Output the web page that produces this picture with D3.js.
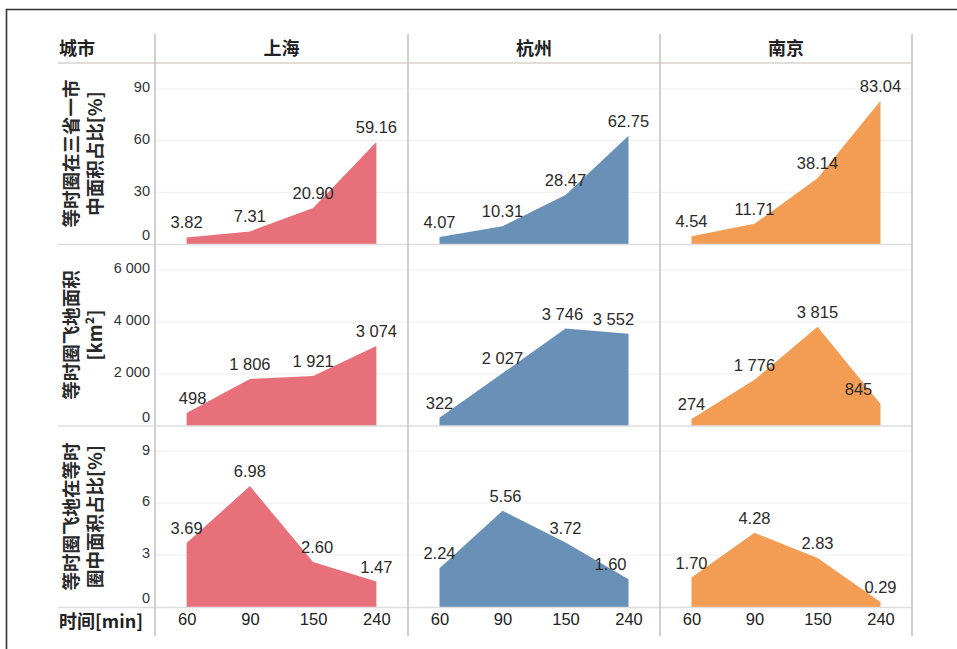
<!DOCTYPE html>
<html><head><meta charset="utf-8">
<script src="https://cdn.jsdelivr.net/npm/d3@7/dist/d3.min.js"></script>
<style>
html,body{margin:0;padding:0;background:#fff;}
svg{display:block;}
</style></head>
<body><svg id="chart" width="957" height="649"></svg>
<script>
// ---------- data ----------
const cities = ['上海', '杭州', '南京'];
const times = ['60', '90', '150', '240'];
const cornerLabel = '城市';
const xAxisTitle = '时间[min]';

// row 1: 等时圈在三省一市中面积占比 [%]
const shareSH = [3.82, 7.31, 20.90, 59.16];
const shareHZ = [4.07, 10.31, 28.47, 62.75];
const shareNJ = [4.54, 11.71, 38.14, 83.04];
// row 2: 等时圈飞地面积 [km²]
const enclaveAreaSH = [498, 1806, 1921, 3074];
const enclaveAreaHZ = [322, 2027, 3746, 3552];
const enclaveAreaNJ = [274, 1776, 3815, 845];
// row 3: 等时圈飞地在等时圈中面积占比 [%]
const enclaveShareSH = [3.69, 6.98, 2.60, 1.47];
const enclaveShareHZ = [2.24, 5.56, 3.72, 1.60];
const enclaveShareNJ = [1.70, 4.28, 2.83, 0.29];

const rowTitles = [
  ['等时圈在三省一市', '中面积占比[%]'],
  ['等时圈飞地面积', '[km²]'],
  ['等时圈飞地在等时', '圈中面积占比[%]']
];
const row1Ticks = [0, 30, 60, 90];
const row2Ticks = [0, 2000, 4000, 6000];
const row3Ticks = [0, 3, 6, 9];
const cityColors = ['#e8707a', '#6990b7', '#f39d54'];

// ---------- layout ----------
const colEdges = [155, 408, 660, 912];
const rowEdges = [63, 244, 426, 607];
const rowDomains = [105, 7000, 10.45];
const rows = [
  {series: [shareSH, shareHZ, shareNJ], ticks: row1Ticks, fmt: 'dec'},
  {series: [enclaveAreaSH, enclaveAreaHZ, enclaveAreaNJ], ticks: row2Ticks, fmt: 'int'},
  {series: [enclaveShareSH, enclaveShareHZ, enclaveShareNJ], ticks: row3Ticks, fmt: 'dec'}
];
// label nudges (row, col, idx) -> dx
const labelNudge = {'1-0-0': 6, '1-1-2': -3, '1-1-3': -15, '1-2-3': -22, '2-0-2': 4, '2-1-1': 3, '2-1-3': -18};

const loc = d3.formatLocale({decimal: '.', thousands: ' ', grouping: [3], currency: ['', '']});
const fmtInt = loc.format(',d');
const fmtDec = d3.format('.2f');

const svg = d3.select('#chart');
const latin = '"Liberation Sans", Arial, sans-serif';
const cjk = '"Noto Sans CJK SC", "Noto Sans", sans-serif';

// frame
svg.append('line').attr('x1', 6).attr('x2', 957).attr('y1', 9.5).attr('y2', 9.5)
  .attr('stroke', '#333').attr('stroke-width', 1.6);
svg.append('line').attr('x1', 6.5).attr('x2', 6.5).attr('y1', 9).attr('y2', 649)
  .attr('stroke', '#333').attr('stroke-width', 1.6);

// panels
rows.forEach((row, r) => {
  const y = d3.scaleLinear().domain([0, rowDomains[r]]).range([rowEdges[r + 1], rowEdges[r]]);
  // y tick labels
  const ay = svg.append('g').attr('transform', 'translate(150,0)')
    .call(d3.axisLeft(y).tickValues(row.ticks).tickSize(0).tickPadding(0)
      .tickFormat(v => row.fmt === 'int' ? fmtInt(v) : d3.format('d')(v)));
  ay.select('.domain').remove();
  ay.selectAll('text').attr('font-family', latin).attr('font-size', 14.5).attr('fill', '#333')
    .attr('dy', d => d === 0 ? '-0.3em' : '0.2em');

  // row titles
  const cy = (rowEdges[r] + rowEdges[r + 1]) / 2;
  rowTitles[r].forEach((t, i) => {
    svg.append('text').attr('transform', `translate(${70 + i * 24},${cy}) rotate(-90)`)
      .attr('text-anchor', 'middle').attr('dominant-baseline', 'central')
      .attr('font-family', cjk).attr('font-weight', 'bold').attr('font-size', 18.5)
      .attr('fill', '#2a2a2a').text(t);
  });

  cities.forEach((c, ci) => {
    const x = d3.scalePoint().domain(times).range([colEdges[ci], colEdges[ci + 1]]).padding(0.5);
    // gridlines
    svg.append('g').selectAll('line').data(row.ticks.filter(v => v > 0)).join('line')
      .attr('x1', colEdges[ci] + 1).attr('x2', colEdges[ci + 1] - 1)
      .attr('y1', d => y(d)).attr('y2', d => y(d))
      .attr('stroke', '#eeeeee').attr('stroke-width', 1);
    const vals = row.series[ci];
    const area = d3.area().x((d, i) => x(times[i])).y0(y(0)).y1(d => y(d));
    svg.append('path').datum(vals).attr('d', area).attr('fill', cityColors[ci]);
    svg.append('g').selectAll('text').data(vals).join('text')
      .attr('x', (d, i) => x(times[i]) + (labelNudge[`${r}-${ci}-${i}`] || 0))
      .attr('y', d => y(d) - 9)
      .attr('text-anchor', 'middle')
      .attr('font-family', latin).attr('font-size', 16.5).attr('fill', '#2a2a2a')
      .text(d => row.fmt === 'int' ? fmtInt(d) : fmtDec(d));
  });
});

// horizontal separators
[63, 244.5, 426, 607.5].forEach((yy, i) => {
  svg.append('line').attr('x1', 58).attr('x2', 912).attr('y1', yy).attr('y2', yy)
    .attr('stroke', i === 0 ? '#d6d2cf' : '#dedede').attr('stroke-width', 1.5);
});

// vertical dividers
svg.append('g').selectAll('line').data(colEdges).join('line')
  .attr('x1', d => d).attr('x2', d => d).attr('y1', 34).attr('y2', 636)
  .attr('stroke', '#c9c4c2').attr('stroke-width', 1.6);

// header
svg.append('text').attr('x', 59).attr('y', 55).attr('font-family', cjk)
  .attr('font-weight', 'bold').attr('font-size', 18).attr('fill', '#222').text(cornerLabel);
cities.forEach((c, ci) => {
  svg.append('text').attr('x', (colEdges[ci] + colEdges[ci + 1]) / 2).attr('y', 55)
    .attr('text-anchor', 'middle').attr('font-family', cjk).attr('font-weight', 'bold')
    .attr('font-size', 18).attr('fill', '#222').text(c);
  const x = d3.scalePoint().domain(times).range([colEdges[ci], colEdges[ci + 1]]).padding(0.5);
  const ax = svg.append('g').attr('transform', 'translate(0,613)')
    .call(d3.axisBottom(x).tickSize(0).tickPadding(0));
  ax.select('.domain').remove();
  ax.selectAll('text').attr('font-family', latin).attr('font-size', 16.5).attr('fill', '#222')
    .attr('dy', '0.75em');
});

// x axis title
svg.append('text').attr('x', 59).attr('y', 628).attr('font-family', cjk)
  .attr('font-weight', 'bold').attr('font-size', 18).attr('fill', '#222').text(xAxisTitle);
</script>
</body></html>
